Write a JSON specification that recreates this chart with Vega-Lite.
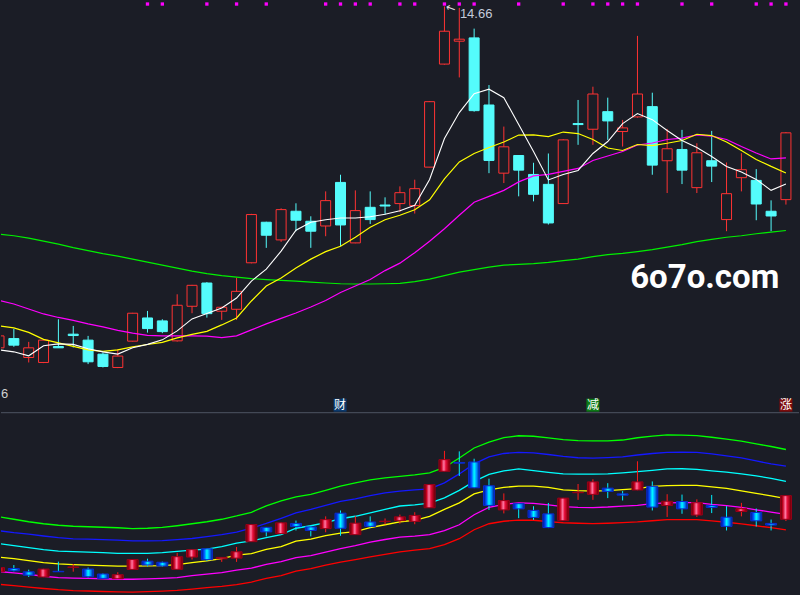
{
  "$schema": "https://vega.github.io/schema/vega-lite/v6.json",
  "width": 800,
  "height": 595,
  "autosize": {"type": "fit", "contains": "padding"},
  "padding": 0,
  "background": "#1b1d26",
  "config": {
    "view": {"stroke": null},
    "axis": {"labels": false, "ticks": false, "domain": false, "gridColor": "#535763", "gridDash": [1, 3], "gridWidth": 1}
  },
  "datasets": {
    "k": [
      {"i":0,"open":9.903,"high":10.08,"low":9.895,"close":10.069,"ma5":9.875,"ma10":10.208,"ma20":10.563,"ma60":11.486,"g":12.067,"bl":11.518,"cy":11.008,"mid":10.479,"mg":9.91,"rd":9.408,"sig":0},
      {"i":1,"open":10.032,"high":10.167,"low":9.917,"close":9.94,"ma5":9.847,"ma10":10.181,"ma20":10.514,"ma60":11.465,"g":11.969,"bl":11.44,"cy":10.93,"mid":10.42,"mg":9.863,"rd":9.361,"sig":0},
      {"i":2,"open":9.768,"high":9.986,"low":9.699,"close":9.903,"ma5":9.792,"ma10":10.118,"ma20":10.444,"ma60":11.431,"g":11.871,"bl":11.381,"cy":10.851,"mid":10.342,"mg":9.8,"rd":9.302,"sig":0},
      {"i":3,"open":9.699,"high":10.02,"low":9.69,"close":10.01,"ma5":9.931,"ma10":10.021,"ma20":10.375,"ma60":11.389,"g":11.793,"bl":11.31,"cy":10.773,"mid":10.263,"mg":9.726,"rd":9.244,"sig":0},
      {"i":4,"open":9.921,"high":10.301,"low":9.9,"close":9.903,"ma5":9.958,"ma10":9.972,"ma20":10.326,"ma60":11.347,"g":11.734,"bl":11.244,"cy":10.714,"mid":10.212,"mg":9.675,"rd":9.197,"sig":0},
      {"i":5,"open":10.093,"high":10.208,"low":9.907,"close":10.074,"ma5":9.951,"ma10":9.924,"ma20":10.285,"ma60":11.299,"g":11.695,"bl":11.196,"cy":10.695,"mid":10.185,"mg":9.655,"rd":9.165,"sig":0},
      {"i":6,"open":10.01,"high":10.069,"low":9.676,"close":9.708,"ma5":9.889,"ma10":9.875,"ma20":10.236,"ma60":11.257,"g":11.675,"bl":11.185,"cy":10.675,"mid":10.165,"mg":9.644,"rd":9.146,"sig":0},
      {"i":7,"open":9.815,"high":9.838,"low":9.629,"close":9.643,"ma5":9.847,"ma10":9.854,"ma20":10.194,"ma60":11.215,"g":11.655,"bl":11.169,"cy":10.655,"mid":10.146,"mg":9.628,"rd":9.126,"sig":0},
      {"i":8,"open":9.629,"high":9.885,"low":9.62,"close":9.788,"ma5":9.815,"ma10":9.875,"ma20":10.146,"ma60":11.181,"g":11.636,"bl":11.146,"cy":10.628,"mid":10.126,"mg":9.608,"rd":9.114,"sig":0},
      {"i":9,"open":9.996,"high":10.39,"low":9.99,"close":10.385,"ma5":9.903,"ma10":9.917,"ma20":10.107,"ma60":11.139,"g":11.604,"bl":11.122,"cy":10.624,"mid":10.126,"mg":9.608,"rd":9.106,"sig":0},
      {"i":10,"open":10.319,"high":10.417,"low":10.115,"close":10.171,"ma5":9.951,"ma10":9.949,"ma20":10.076,"ma60":11.097,"g":11.616,"bl":11.122,"cy":10.628,"mid":10.134,"mg":9.624,"rd":9.122,"sig":1},
      {"i":11,"open":10.278,"high":10.301,"low":10.107,"close":10.129,"ma5":10.014,"ma10":9.979,"ma20":10.069,"ma60":11.056,"g":11.647,"bl":11.13,"cy":10.655,"mid":10.146,"mg":9.644,"rd":9.142,"sig":1},
      {"i":12,"open":10.0,"high":10.649,"low":9.99,"close":10.496,"ma5":10.139,"ma10":10.042,"ma20":10.069,"ma60":11.014,"g":11.714,"bl":11.165,"cy":10.706,"mid":10.185,"mg":9.675,"rd":9.169,"sig":0},
      {"i":13,"open":10.482,"high":10.78,"low":10.385,"close":10.774,"ma5":10.306,"ma10":10.09,"ma20":10.069,"ma60":10.972,"g":11.793,"bl":11.212,"cy":10.753,"mid":10.263,"mg":9.753,"rd":9.224,"sig":0},
      {"i":14,"open":10.806,"high":10.819,"low":10.324,"close":10.379,"ma5":10.382,"ma10":10.132,"ma20":10.065,"ma60":10.938,"g":11.871,"bl":11.283,"cy":10.793,"mid":10.334,"mg":9.812,"rd":9.279,"sig":1},
      {"i":15,"open":10.413,"high":10.475,"low":10.292,"close":10.468,"ma5":10.458,"ma10":10.222,"ma20":10.046,"ma60":10.91,"g":11.969,"bl":11.361,"cy":10.891,"mid":10.42,"mg":9.871,"rd":9.33,"sig":0},
      {"i":16,"open":10.44,"high":10.879,"low":10.292,"close":10.69,"ma5":10.597,"ma10":10.319,"ma20":10.069,"ma60":10.889,"g":12.098,"bl":11.459,"cy":11.028,"mid":10.557,"mg":9.969,"rd":9.4,"sig":1},
      {"i":17,"open":11.088,"high":11.77,"low":11.08,"close":11.76,"ma5":10.833,"ma10":10.556,"ma20":10.153,"ma60":10.868,"g":12.244,"bl":11.616,"cy":11.118,"mid":10.616,"mg":10.047,"rd":9.498,"sig":0},
      {"i":18,"open":11.653,"high":11.66,"low":11.296,"close":11.472,"ma5":11.0,"ma10":10.764,"ma20":10.236,"ma60":10.854,"g":12.498,"bl":11.804,"cy":11.244,"mid":10.781,"mg":10.193,"rd":9.644,"sig":1},
      {"i":19,"open":11.407,"high":11.847,"low":11.379,"close":11.829,"ma5":11.25,"ma10":10.875,"ma20":10.313,"ma60":10.843,"g":12.695,"bl":12.008,"cy":11.361,"mid":10.891,"mg":10.302,"rd":9.753,"sig":0},
      {"i":20,"open":11.806,"high":11.917,"low":11.528,"close":11.681,"ma5":11.542,"ma10":11.014,"ma20":10.389,"ma60":10.833,"g":12.851,"bl":12.224,"cy":11.616,"mid":11.106,"mg":10.459,"rd":9.93,"sig":0},
      {"i":21,"open":11.667,"high":11.736,"low":11.296,"close":11.528,"ma5":11.653,"ma10":11.139,"ma20":10.472,"ma60":10.819,"g":12.949,"bl":12.361,"cy":11.714,"mid":11.185,"mg":10.538,"rd":10.028,"sig":0},
      {"i":22,"open":11.601,"high":12.083,"low":11.458,"close":11.954,"ma5":11.688,"ma10":11.243,"ma20":10.563,"ma60":10.806,"g":13.106,"bl":12.518,"cy":11.84,"mid":11.322,"mg":10.675,"rd":10.165,"sig":1},
      {"i":23,"open":12.208,"high":12.315,"low":11.319,"close":11.615,"ma5":11.713,"ma10":11.319,"ma20":10.674,"ma60":10.796,"g":13.275,"bl":12.675,"cy":11.989,"mid":11.42,"mg":10.812,"rd":10.283,"sig":1},
      {"i":24,"open":11.365,"high":12.097,"low":11.36,"close":11.815,"ma5":11.713,"ma10":11.444,"ma20":10.764,"ma60":10.792,"g":13.4,"bl":12.773,"cy":12.087,"mid":11.479,"mg":10.93,"rd":10.381,"sig":1},
      {"i":25,"open":11.861,"high":12.083,"low":11.629,"close":11.69,"ma5":11.729,"ma10":11.583,"ma20":10.854,"ma60":10.792,"g":13.518,"bl":12.898,"cy":12.224,"mid":11.636,"mg":11.067,"rd":10.491,"sig":1},
      {"i":26,"open":11.893,"high":12.0,"low":11.76,"close":11.879,"ma5":11.764,"ma10":11.688,"ma20":10.979,"ma60":10.796,"g":13.597,"bl":13.008,"cy":12.361,"mid":11.753,"mg":11.173,"rd":10.589,"sig":0},
      {"i":27,"open":11.913,"high":12.153,"low":11.796,"close":12.065,"ma5":11.813,"ma10":11.75,"ma20":11.083,"ma60":10.801,"g":13.655,"bl":13.079,"cy":12.491,"mid":11.863,"mg":11.263,"rd":10.687,"sig":1},
      {"i":28,"open":11.885,"high":12.246,"low":11.774,"close":12.121,"ma5":11.889,"ma10":11.826,"ma20":11.229,"ma60":10.826,"g":13.714,"bl":13.126,"cy":12.538,"mid":11.93,"mg":11.302,"rd":10.753,"sig":1},
      {"i":29,"open":12.421,"high":13.34,"low":12.42,"close":13.333,"ma5":12.25,"ma10":11.965,"ma20":11.389,"ma60":10.861,"g":13.793,"bl":13.165,"cy":12.608,"mid":12.087,"mg":11.361,"rd":10.812,"sig":0},
      {"i":30,"open":13.857,"high":14.66,"low":13.85,"close":14.315,"ma5":12.819,"ma10":12.257,"ma20":11.563,"ma60":10.91,"g":14.008,"bl":13.4,"cy":12.812,"mid":12.361,"mg":11.518,"rd":10.969,"sig":1},
      {"i":31,"open":14.176,"high":14.64,"low":13.671,"close":14.204,"ma5":13.181,"ma10":12.493,"ma20":11.75,"ma60":10.958,"g":14.381,"bl":13.753,"cy":13.106,"mid":12.616,"mg":11.753,"rd":11.204,"sig":1},
      {"i":32,"open":14.222,"high":14.351,"low":13.194,"close":13.208,"ma5":13.444,"ma10":12.611,"ma20":11.931,"ma60":10.993,"g":14.773,"bl":14.146,"cy":13.459,"mid":12.969,"mg":12.146,"rd":11.557,"sig":1},
      {"i":33,"open":13.287,"high":13.565,"low":12.337,"close":12.514,"ma5":13.507,"ma10":12.694,"ma20":12.014,"ma60":11.028,"g":15.008,"bl":14.42,"cy":13.734,"mid":13.126,"mg":12.44,"rd":11.793,"sig":0},
      {"i":34,"open":12.337,"high":12.986,"low":12.199,"close":12.704,"ma5":13.389,"ma10":12.771,"ma20":12.097,"ma60":11.056,"g":15.185,"bl":14.557,"cy":13.871,"mid":13.224,"mg":12.557,"rd":11.891,"sig":0},
      {"i":35,"open":12.583,"high":12.59,"low":12.014,"close":12.379,"ma5":13.014,"ma10":12.868,"ma20":12.215,"ma60":11.065,"g":15.255,"bl":14.604,"cy":13.949,"mid":13.275,"mg":12.616,"rd":11.938,"sig":1},
      {"i":36,"open":12.319,"high":12.482,"low":11.944,"close":12.042,"ma5":12.639,"ma10":12.871,"ma20":12.299,"ma60":11.076,"g":15.236,"bl":14.585,"cy":13.879,"mid":13.275,"mg":12.597,"rd":11.93,"sig":0},
      {"i":37,"open":12.181,"high":12.611,"low":11.621,"close":11.643,"ma5":12.243,"ma10":12.847,"ma20":12.319,"ma60":11.093,"g":15.173,"bl":14.518,"cy":13.812,"mid":13.224,"mg":12.538,"rd":11.879,"sig":0},
      {"i":38,"open":11.913,"high":12.81,"low":11.91,"close":12.801,"ma5":12.319,"ma10":12.91,"ma20":12.361,"ma60":11.118,"g":15.106,"bl":14.44,"cy":13.753,"mid":13.126,"mg":12.467,"rd":11.832,"sig":1},
      {"i":39,"open":13.028,"high":13.357,"low":12.732,"close":13.014,"ma5":12.375,"ma10":12.889,"ma20":12.403,"ma60":11.139,"g":15.067,"bl":14.389,"cy":13.746,"mid":13.095,"mg":12.44,"rd":11.812,"sig":0},
      {"i":40,"open":12.949,"high":13.542,"low":12.732,"close":13.44,"ma5":12.611,"ma10":12.806,"ma20":12.514,"ma60":11.174,"g":15.055,"bl":14.377,"cy":13.746,"mid":13.079,"mg":12.428,"rd":11.8,"sig":1},
      {"i":41,"open":13.194,"high":13.389,"low":12.801,"close":13.065,"ma5":12.778,"ma10":12.688,"ma20":12.576,"ma60":11.201,"g":15.055,"bl":14.393,"cy":13.753,"mid":13.095,"mg":12.451,"rd":11.812,"sig":1},
      {"i":42,"open":12.917,"high":13.079,"low":12.708,"close":12.968,"ma5":13.028,"ma10":12.653,"ma20":12.639,"ma60":11.218,"g":15.087,"bl":14.42,"cy":13.793,"mid":13.138,"mg":12.487,"rd":11.836,"sig":1},
      {"i":43,"open":13.121,"high":14.25,"low":13.11,"close":13.44,"ma5":13.167,"ma10":12.736,"ma20":12.729,"ma60":11.243,"g":15.177,"bl":14.498,"cy":13.844,"mid":13.173,"mg":12.518,"rd":11.863,"sig":1},
      {"i":44,"open":13.264,"high":13.458,"low":12.315,"close":12.449,"ma5":13.083,"ma10":12.722,"ma20":12.757,"ma60":11.271,"g":15.244,"bl":14.557,"cy":13.891,"mid":13.263,"mg":12.585,"rd":11.91,"sig":0},
      {"i":45,"open":12.51,"high":12.954,"low":12.06,"close":12.677,"ma5":12.931,"ma10":12.754,"ma20":12.806,"ma60":11.306,"g":15.291,"bl":14.604,"cy":13.949,"mid":13.295,"mg":12.616,"rd":11.953,"sig":0},
      {"i":46,"open":12.667,"high":12.94,"low":12.185,"close":12.379,"ma5":12.792,"ma10":12.792,"ma20":12.826,"ma60":11.34,"g":15.283,"bl":14.608,"cy":13.957,"mid":13.302,"mg":12.624,"rd":11.957,"sig":1},
      {"i":47,"open":12.135,"high":12.754,"low":12.06,"close":12.621,"ma5":12.694,"ma10":12.879,"ma20":12.871,"ma60":11.382,"g":15.263,"bl":14.597,"cy":13.93,"mid":13.302,"mg":12.624,"rd":11.957,"sig":0},
      {"i":48,"open":12.51,"high":12.926,"low":12.213,"close":12.435,"ma5":12.569,"ma10":12.861,"ma20":12.854,"ma60":11.413,"g":15.196,"bl":14.538,"cy":13.871,"mid":13.244,"mg":12.557,"rd":11.906,"sig":1},
      {"i":49,"open":11.69,"high":12.486,"low":11.528,"close":12.051,"ma5":12.431,"ma10":12.771,"ma20":12.806,"ma60":11.444,"g":15.126,"bl":14.467,"cy":13.82,"mid":13.185,"mg":12.506,"rd":11.851,"sig":0},
      {"i":50,"open":12.274,"high":12.615,"low":12.083,"close":12.385,"ma5":12.354,"ma10":12.653,"ma20":12.708,"ma60":11.465,"g":15.047,"bl":14.381,"cy":13.753,"mid":13.087,"mg":12.44,"rd":11.789,"sig":0},
      {"i":51,"open":12.236,"high":12.393,"low":11.681,"close":11.907,"ma5":12.25,"ma10":12.528,"ma20":12.618,"ma60":11.493,"g":14.938,"bl":14.263,"cy":13.675,"mid":12.989,"mg":12.342,"rd":11.714,"sig":1},
      {"i":52,"open":11.806,"high":11.958,"low":11.528,"close":11.74,"ma5":12.097,"ma10":12.431,"ma20":12.535,"ma60":11.514,"g":14.832,"bl":14.146,"cy":13.577,"mid":12.891,"mg":12.251,"rd":11.636,"sig":1},
      {"i":53,"open":11.968,"high":12.91,"low":11.899,"close":12.899,"ma5":12.185,"ma10":12.34,"ma20":12.549,"ma60":11.538,"g":14.714,"bl":14.059,"cy":13.459,"mid":12.781,"mg":12.165,"rd":11.549,"sig":1}
    ]
  },
  "data": {"name": "k"},
  "resolve": {"scale": {"y": "independent"}},
  "layer": [
    {
      "layer": [
        {
          "data": {"values": [{}]},
          "mark": {"type": "rule", "color": "#434956", "strokeWidth": 1.3},
          "encoding": {
            "y": {"datum": 9.0, "type": "quantitative", "scale": {"domain": [6.4583, 14.7222], "nice": false, "zero": false},
                  "axis": {"values": [9.5, 10, 10.5, 11, 11.5, 12, 12.5, 13, 13.5, 14, 14.5], "grid": true, "title": null}}
          }
        },
        {
          "mark": {"type": "rule", "strokeWidth": 1, "clip": true},
          "encoding": {
            "x": {"field": "i", "type": "quantitative", "scale": {"domain": [0.134, 53.88], "nice": false, "zero": false, "padding": 0}, "axis": null},
            "y": {"field": "low", "type": "quantitative", "scale": {"domain": [6.4583, 14.7222], "nice": false, "zero": false}, "axis": null},
            "y2": {"field": "high"},
            "color": {"condition": {"test": "datum.close >= datum.open", "value": "#ff3333"}, "value": "#54fcfc"}
          }
        },
        {
          "mark": {"type": "bar", "size": 10, "strokeWidth": 1, "clip": true},
          "encoding": {
            "x": {"field": "i", "type": "quantitative", "scale": {"domain": [0.134, 53.88], "nice": false, "zero": false, "padding": 0}, "axis": null},
            "y": {"field": "open", "type": "quantitative", "scale": {"domain": [6.4583, 14.7222], "nice": false, "zero": false}, "axis": null},
            "y2": {"field": "close"},
            "fill": {"condition": {"test": "datum.close >= datum.open", "value": "#1b1d26"}, "value": "#54fcfc"},
            "stroke": {"condition": {"test": "datum.close >= datum.open", "value": "#ff3333"}, "value": "#54fcfc"}
          }
        },
        {
          "mark": {"type": "line", "color": "#00f000", "strokeWidth": 1.2, "clip": true},
          "encoding": {
            "x": {"field": "i", "type": "quantitative", "scale": {"domain": [0.134, 53.88], "nice": false, "zero": false, "padding": 0}, "axis": null},
            "y": {"field": "ma60", "type": "quantitative", "scale": {"domain": [6.4583, 14.7222], "nice": false, "zero": false}, "axis": null}
          }
        },
        {
          "mark": {"type": "line", "color": "#ff00ff", "strokeWidth": 1.2, "clip": true},
          "encoding": {
            "x": {"field": "i", "type": "quantitative", "scale": {"domain": [0.134, 53.88], "nice": false, "zero": false, "padding": 0}, "axis": null},
            "y": {"field": "ma20", "type": "quantitative", "scale": {"domain": [6.4583, 14.7222], "nice": false, "zero": false}, "axis": null}
          }
        },
        {
          "mark": {"type": "line", "color": "#ffff00", "strokeWidth": 1.2, "clip": true},
          "encoding": {
            "x": {"field": "i", "type": "quantitative", "scale": {"domain": [0.134, 53.88], "nice": false, "zero": false, "padding": 0}, "axis": null},
            "y": {"field": "ma10", "type": "quantitative", "scale": {"domain": [6.4583, 14.7222], "nice": false, "zero": false}, "axis": null}
          }
        },
        {
          "mark": {"type": "line", "color": "#ffffff", "strokeWidth": 1.1, "clip": true},
          "encoding": {
            "x": {"field": "i", "type": "quantitative", "scale": {"domain": [0.134, 53.88], "nice": false, "zero": false, "padding": 0}, "axis": null},
            "y": {"field": "ma5", "type": "quantitative", "scale": {"domain": [6.4583, 14.7222], "nice": false, "zero": false}, "axis": null}
          }
        },
        {
          "transform": [{"filter": "datum.sig == 1"}],
          "mark": {"type": "square", "size": 11, "color": "#ff00ff", "opacity": 1, "clip": true},
          "encoding": {
            "x": {"field": "i", "type": "quantitative", "scale": {"domain": [0.134, 53.88], "nice": false, "zero": false, "padding": 0}, "axis": null},
            "y": {"datum": 14.694, "type": "quantitative", "scale": {"domain": [6.4583, 14.7222], "nice": false, "zero": false}, "axis": null}
          }
        },
        {
          "data": {"values": [{"i": 31.04, "p": 14.504, "t": "14.66"}]},
          "mark": {"type": "text", "align": "left", "baseline": "alphabetic", "font": "Liberation Sans", "fontSize": 13, "color": "#c3cbdb"},
          "encoding": {
            "x": {"field": "i", "type": "quantitative", "scale": {"domain": [0.134, 53.88], "nice": false, "zero": false, "padding": 0}, "axis": null},
            "y": {"field": "p", "type": "quantitative", "scale": {"domain": [6.4583, 14.7222], "nice": false, "zero": false}, "axis": null},
            "text": {"field": "t"}
          }
        },
        {
          "data": {"values": [{"i": 30.43, "p": 14.639, "t": "←"}]},
          "mark": {"type": "text", "align": "center", "baseline": "middle", "angle": 20, "font": "DejaVu Sans", "fontSize": 12, "color": "#d8d8d8"},
          "encoding": {
            "x": {"field": "i", "type": "quantitative", "scale": {"domain": [0.134, 53.88], "nice": false, "zero": false, "padding": 0}, "axis": null},
            "y": {"field": "p", "type": "quantitative", "scale": {"domain": [6.4583, 14.7222], "nice": false, "zero": false}, "axis": null},
            "text": {"field": "t"}
          }
        },
        {
          "data": {"values": [{"i": 0.14, "p": 9.208, "t": "6"}]},
          "mark": {"type": "text", "align": "left", "baseline": "alphabetic", "font": "Liberation Sans", "fontSize": 13, "color": "#d0d0d0"},
          "encoding": {
            "x": {"field": "i", "type": "quantitative", "scale": {"domain": [0.134, 53.88], "nice": false, "zero": false, "padding": 0}, "axis": null},
            "y": {"field": "p", "type": "quantitative", "scale": {"domain": [6.4583, 14.7222], "nice": false, "zero": false}, "axis": null},
            "text": {"field": "t"}
          }
        },
        {
          "data": {"values": [{"i": 47.53, "p": 10.736, "t": "6o7o.com"}]},
          "mark": {"type": "text", "align": "center", "baseline": "alphabetic", "font": "Roboto", "fontWeight": "bold", "fontSize": 33, "color": "#ffffff"},
          "encoding": {
            "x": {"field": "i", "type": "quantitative", "scale": {"domain": [0.134, 53.88], "nice": false, "zero": false, "padding": 0}, "axis": null},
            "y": {"field": "p", "type": "quantitative", "scale": {"domain": [6.4583, 14.7222], "nice": false, "zero": false}, "axis": null},
            "text": {"field": "t"}
          }
        },
        {
          "data": {"values": [{"i": 22.97, "p": 9.104, "t": "财"}, {"i": 40, "p": 9.104, "t": "减"}, {"i": 53, "p": 9.104, "t": "涨"}]},
          "layer": [
            {
              "mark": {"type": "square", "size": 169, "opacity": 1, "clip": true},
              "encoding": {
                "x": {"field": "i", "type": "quantitative", "scale": {"domain": [0.134, 53.88], "nice": false, "zero": false, "padding": 0}, "axis": null},
                "y": {"field": "p", "type": "quantitative", "scale": {"domain": [6.4583, 14.7222], "nice": false, "zero": false}, "axis": null},
                "color": {"field": "t", "type": "nominal", "scale": {"domain": ["财", "减", "涨"], "range": ["#0b3a6e", "#0d7a16", "#7d0c0c"]}, "legend": null}
              }
            },
            {
              "mark": {"type": "text", "align": "center", "baseline": "middle", "font": "Noto Sans CJK SC", "fontSize": 12, "color": "#ffffff", "clip": true},
              "encoding": {
                "x": {"field": "i", "type": "quantitative", "scale": {"domain": [0.134, 53.88], "nice": false, "zero": false, "padding": 0}, "axis": null},
                "y": {"field": "p", "type": "quantitative", "scale": {"domain": [6.4583, 14.7222], "nice": false, "zero": false}, "axis": null},
                "text": {"field": "t"}
              }
            }
          ]
        }
      ]
    },
    {
      "layer": [
        {
          "mark": {"type": "line", "color": "#00ff00", "strokeWidth": 1.3, "clip": true},
          "encoding": {
            "x": {"field": "i", "type": "quantitative", "scale": {"domain": [0.134, 53.88], "nice": false, "zero": false, "padding": 0}, "axis": null},
            "y": {"field": "g", "type": "quantitative", "scale": {"domain": [8.989, 32.322], "nice": false, "zero": false},
                  "axis": {"values": [10.5, 12, 13.5, 15], "grid": true, "title": null}}
          }
        },
        {
          "mark": {"type": "line", "color": "#1418ff", "strokeWidth": 1.3, "clip": true},
          "encoding": {
            "x": {"field": "i", "type": "quantitative", "scale": {"domain": [0.134, 53.88], "nice": false, "zero": false, "padding": 0}, "axis": null},
            "y": {"field": "bl", "type": "quantitative", "scale": {"domain": [8.989, 32.322], "nice": false, "zero": false}, "axis": null}
          }
        },
        {
          "mark": {"type": "line", "color": "#00ffff", "strokeWidth": 1.3, "clip": true},
          "encoding": {
            "x": {"field": "i", "type": "quantitative", "scale": {"domain": [0.134, 53.88], "nice": false, "zero": false, "padding": 0}, "axis": null},
            "y": {"field": "cy", "type": "quantitative", "scale": {"domain": [8.989, 32.322], "nice": false, "zero": false}, "axis": null}
          }
        },
        {
          "mark": {"type": "line", "color": "#ffff00", "strokeWidth": 1.3, "clip": true},
          "encoding": {
            "x": {"field": "i", "type": "quantitative", "scale": {"domain": [0.134, 53.88], "nice": false, "zero": false, "padding": 0}, "axis": null},
            "y": {"field": "mid", "type": "quantitative", "scale": {"domain": [8.989, 32.322], "nice": false, "zero": false}, "axis": null}
          }
        },
        {
          "mark": {"type": "line", "color": "#ff00ff", "strokeWidth": 1.3, "clip": true},
          "encoding": {
            "x": {"field": "i", "type": "quantitative", "scale": {"domain": [0.134, 53.88], "nice": false, "zero": false, "padding": 0}, "axis": null},
            "y": {"field": "mg", "type": "quantitative", "scale": {"domain": [8.989, 32.322], "nice": false, "zero": false}, "axis": null}
          }
        },
        {
          "mark": {"type": "line", "color": "#ff0000", "strokeWidth": 1.3, "clip": true},
          "encoding": {
            "x": {"field": "i", "type": "quantitative", "scale": {"domain": [0.134, 53.88], "nice": false, "zero": false, "padding": 0}, "axis": null},
            "y": {"field": "rd", "type": "quantitative", "scale": {"domain": [8.989, 32.322], "nice": false, "zero": false}, "axis": null}
          }
        },
        {
          "transform": [{"window": [{"op": "lag", "field": "close", "as": "pc"}], "sort": [{"field": "i"}]}],
          "mark": {"type": "rule", "strokeWidth": 1, "clip": true},
          "encoding": {
            "x": {"field": "i", "type": "quantitative", "scale": {"domain": [0.134, 53.88], "nice": false, "zero": false, "padding": 0}, "axis": null},
            "y": {"field": "low", "type": "quantitative", "scale": {"domain": [8.989, 32.322], "nice": false, "zero": false}, "axis": null},
            "y2": {"field": "high"},
            "color": {"condition": {"test": "datum.pc == null || datum.close >= datum.pc", "value": "#ff1a1a"}, "value": "#00f0ff"}
          }
        },
        {
          "transform": [
            {"window": [{"op": "lag", "field": "close", "as": "pc"}], "sort": [{"field": "i"}]},
            {"filter": "datum.pc == null || datum.close >= datum.pc"}
          ],
          "mark": {
            "type": "bar", "size": 11, "clip": true, "stroke": "#9a0018", "strokeWidth": 1,
            "fill": {"gradient": "linear", "x1": 0, "y1": 0, "x2": 1, "y2": 0, "stops": [
              {"offset": 0, "color": "#4d0006"}, {"offset": 0.22, "color": "#c8001e"}, {"offset": 0.45, "color": "#ff7aa5"},
              {"offset": 0.62, "color": "#e8103c"}, {"offset": 0.85, "color": "#a00014"}, {"offset": 1, "color": "#4d0006"}]}
          },
          "encoding": {
            "x": {"field": "i", "type": "quantitative", "scale": {"domain": [0.134, 53.88], "nice": false, "zero": false, "padding": 0}, "axis": null},
            "y": {"field": "open", "type": "quantitative", "scale": {"domain": [8.989, 32.322], "nice": false, "zero": false}, "axis": null},
            "y2": {"field": "close"}
          }
        },
        {
          "transform": [
            {"window": [{"op": "lag", "field": "close", "as": "pc"}], "sort": [{"field": "i"}]},
            {"filter": "datum.pc != null && datum.close < datum.pc"}
          ],
          "mark": {
            "type": "bar", "size": 11, "clip": true, "stroke": "#0a2ad0", "strokeWidth": 1,
            "fill": {"gradient": "linear", "x1": 0, "y1": 0, "x2": 1, "y2": 0, "stops": [
              {"offset": 0, "color": "#00108c"}, {"offset": 0.25, "color": "#0050ff"}, {"offset": 0.5, "color": "#00ffff"},
              {"offset": 0.72, "color": "#0090ff"}, {"offset": 1, "color": "#00108c"}]}
          },
          "encoding": {
            "x": {"field": "i", "type": "quantitative", "scale": {"domain": [0.134, 53.88], "nice": false, "zero": false, "padding": 0}, "axis": null},
            "y": {"field": "open", "type": "quantitative", "scale": {"domain": [8.989, 32.322], "nice": false, "zero": false}, "axis": null},
            "y2": {"field": "close"}
          }
        }
      ]
    }
  ]
}
